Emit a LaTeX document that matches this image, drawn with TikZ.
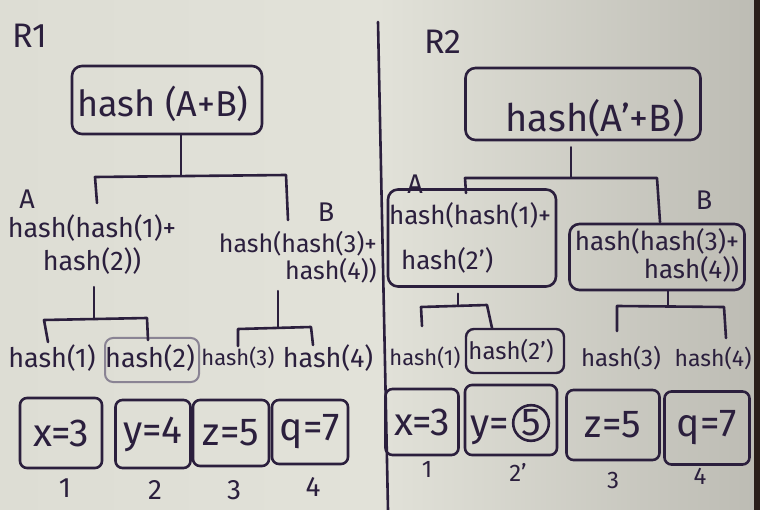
\documentclass[tikz,border=0pt]{standalone}
\usepackage{fontspec}
\setmainfont{Fira Sans}
\definecolor{boardL}{HTML}{DDDDD4}
\definecolor{boardM}{HTML}{E2E2D9}
\definecolor{boardR}{HTML}{BDBCB4}
\definecolor{ink}{HTML}{2B1F3D}
\definecolor{frame}{HTML}{2A1E1A}
\begin{document}
\begin{tikzpicture}[x=1pt,y=-1pt,
  every node/.style={text=ink, inner sep=0pt},
  wire/.style={draw=ink, line width=2.6pt, line cap=round, line join=round},
  lbl/.style={font=\fontsize{27}{33}\selectfont},
  lblS/.style={font=\fontsize{24}{30}\selectfont},
  lblA/.style={font=\fontsize{27}{33}\selectfont, align=center},
  big/.style={font=\fontsize{36}{40}\selectfont},
  dat/.style={font=\fontsize{39}{44}\selectfont},
  idx/.style={font=\fontsize{28}{30}\selectfont},
  idxS/.style={font=\fontsize{24}{26}\selectfont},
  tag/.style={font=\fontsize{27}{28}\selectfont},
  rbox/.style={draw=ink, line width=2.6pt, rounded corners=10pt},
  dbox/.style={draw=ink, line width=2.6pt, rounded corners=7pt}
]
\useasboundingbox (0,0) rectangle (760,510);
\shade[left color=boardL, right color=boardR, middle color=boardM] (0,0) rectangle (754,510);
\fill[frame] (754,0) rectangle (760,510);

% divider
\coordinate (dv1) at (378,22);
\coordinate (dv2) at (388,510);
\draw[wire] (dv1) -- (dv2);

% ================= R1 =================
\node[font=\fontsize{34}{36}\selectfont] (r1) at (30,36) {R1};
\node[rbox, minimum width=190pt, minimum height=68pt] (top1) at (167,100) {};
\node[big] (top1t) at (163,104) {hash (A+B)};

\node[tag] (a1) at (27,199) {A};
\node[lblA] (A1) at (92,245) {hash(hash(1)+\\hash(2))};
\node[tag] (b1) at (326,212) {B};
\node[font=\fontsize{25}{27}\selectfont, align=right, anchor=east] (B1) at (377,257) {hash(hash(3)+\\hash(4))};

\coordinate (j1) at (181,175);
\coordinate (j1a) at (95,177);
\coordinate (j1b) at (286,175);
\coordinate (e1a) at (97,203);
\coordinate (e1b) at (288,220);
\draw[wire] (top1.south -| j1) -- (j1);
\draw[wire] (e1a) -- (j1a) -- (j1b) -- (e1b);

% leaves R1
\node[lbl] (l11) at (52,358) {hash(1)};
\node[lbl] (l12) at (150,358) {hash(2)};
\node[draw=ink!55, line width=2pt, rounded corners=8pt, minimum width=94pt, minimum height=44pt] (l12b) at (152,360) {};
\node[font=\fontsize{22}{26}\selectfont] (l13) at (238,358) {hash(3)};
\node[lbl] (l14) at (328,358) {hash(4)};

\coordinate (ja1) at (94,319);
\coordinate (ja1a) at (44,320);
\coordinate (ja1b) at (147,318);
\coordinate (ea1a) at (48,342);
\coordinate (ea1b) at (148,340);
\draw[wire] (A1.south -| ja1) ++(0,12) -- (ja1);
\draw[wire] (ea1a) -- (ja1a) -- (ja1b) -- (ea1b);

\coordinate (jb1) at (278,328);
\coordinate (jb1a) at (238,329);
\coordinate (jb1b) at (311,327);
\coordinate (eb1a) at (238,346);
\coordinate (eb1b) at (313,345);
\draw[wire] (B1.south -| jb1) ++(0,8) -- (jb1);
\draw[wire] (eb1a) -- (jb1a) -- (jb1b) -- (eb1b);

% data R1
\node[dbox, minimum width=82pt, minimum height=70pt, dat] (d11) at (61,433) {x=3};
\node[dbox, minimum width=75pt, minimum height=68pt, dat] (d12) at (153,434) {y=4};
\node[dbox, minimum width=76pt, minimum height=66pt, dat] (d13) at (231,433) {z=5};
\node[dbox, minimum width=76pt, minimum height=64pt, dat] (d14) at (310,432) {q=7};
\node[idx] (n11) at (65,488) {1};
\node[idx] (n12) at (155,490) {2};
\node[idx] (n13) at (234,490) {3};
\node[idx] (n14) at (313,487) {4};

% ================= R2 =================
\node[font=\fontsize{34}{36}\selectfont] (r2) at (443,42) {R2};
\node[rbox, minimum width=235pt, minimum height=72pt] (top2) at (583,104) {};
\node[font=\fontsize{38}{40}\selectfont] (top2t) at (595,118) {hash(A'+B)};

\node[tag] (a2) at (415,184) {A};
\node[rbox, minimum width=168pt, minimum height=97pt] (A2box) at (472,238) {};
\node[font=\fontsize{26}{45}\selectfont, align=left] (A2) at (470,238) {hash(hash(1)+\\\hspace{12pt}hash(2')};
\node[tag] (b2) at (704,200) {B};
\node[rbox, minimum width=175pt, minimum height=66pt] (B2box) at (657,257) {};
\node[font=\fontsize{26}{28}\selectfont, align=right] (B2) at (657,255) {hash(hash(3)+\\hash(4))};

\coordinate (j2) at (571,177);
\coordinate (j2a) at (465,178);
\coordinate (j2b) at (657,178);
\coordinate (e2a) at (466,193);
\coordinate (e2b) at (660,222);
\draw[wire] (top2.south -| j2) ++(0,6) -- (j2);
\draw[wire] (e2a) -- (j2a) -- (j2b) -- (e2b);

% leaves R2
\node[font=\fontsize{22}{26}\selectfont] (l21) at (425,358) {hash(1)};
\node[lblS] (l22) at (511,351) {hash(2')};
\node[draw=ink, line width=2.4pt, rounded corners=8pt, minimum width=98pt, minimum height=44pt] (l22b) at (515,351) {};
\node[lblS] (l23) at (621,358) {hash(3)};
\node[font=\fontsize{23}{26}\selectfont] (l24) at (713,358) {hash(4)};

\coordinate (ja2) at (458,306);
\coordinate (ja2a) at (421,307);
\coordinate (ja2b) at (487,305);
\coordinate (ea2a) at (422,326);
\coordinate (ea2b) at (492,328);
\draw[wire] (A2box.south -| ja2) ++(0,6) -- (ja2);
\draw[wire] (ea2a) -- (ja2a) -- (ja2b) -- (ea2b);

\coordinate (jb2) at (668,306);
\coordinate (jb2a) at (617,306);
\coordinate (jb2b) at (724,307);
\coordinate (eb2a) at (617,331);
\coordinate (eb2b) at (726,338);
\draw[wire] (B2box.south -| jb2) -- (jb2);
\draw[wire] (eb2a) -- (jb2a) -- (jb2b) -- (eb2b);

% data R2
\node[dbox, minimum width=73pt, minimum height=66pt, dat] (d21) at (422,422) {x=3};
\node[dbox, minimum width=92pt, minimum height=70pt] (d22) at (511,420) {};
\node[dat, anchor=base] (d22y) at (490,436) {y=};
\node[dat, draw=ink, circle, line width=2.6pt, inner sep=1pt] (d22c) at (531,423) {5};
\node[dbox, minimum width=93pt, minimum height=70pt, dat] (d23) at (613,425) {z=5};
\node[dbox, minimum width=85pt, minimum height=73pt, dat] (d24) at (707,428) {q=7};
\node[idxS] (n21) at (427,469) {1};
\node[idxS] (n22) at (518,472) {2'};
\node[idxS] (n23) at (613,480) {3};
\node[idxS] (n24) at (700,476) {4};
\end{tikzpicture}
\end{document}
